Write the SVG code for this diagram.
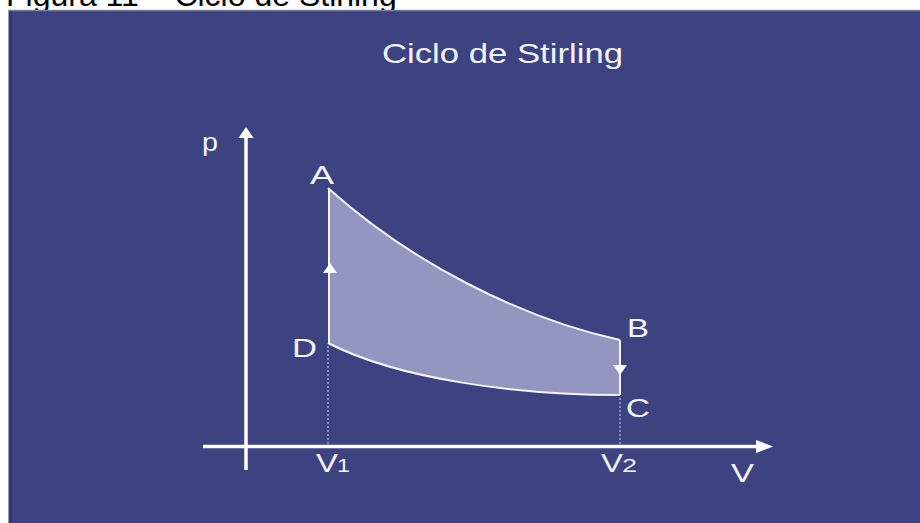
<svg xmlns="http://www.w3.org/2000/svg" width="920" height="523" viewBox="0 0 920 523">
<style>
.lbl{font-family:"Liberation Sans",Arial,sans-serif;font-size:25px;fill:#f2f2f8}
.sub{font-family:"Liberation Sans",Arial,sans-serif;font-size:18px;fill:#f2f2f8}
.axis{stroke:#ffffff;stroke-width:3.5;fill:none}
.edge{stroke:#f4f4fa;stroke-width:2;fill:none}
.dot{stroke:#8c90c4;stroke-width:2;stroke-dasharray:2 2;fill:none}
</style>
<rect width="920" height="523" fill="#ffffff"/>
<text x="6" y="6" font-family="'Liberation Sans',Arial,sans-serif" font-size="32" fill="#000">Figura 11 – Ciclo de Stirling</text>
<rect x="8" y="10" width="912" height="513" fill="#3d4281"/>
<line x1="8" y1="10.5" x2="920" y2="10.5" stroke="#7a7c9c" stroke-width="1.5"/>
<line x1="8.5" y1="10" x2="8.5" y2="523" stroke="#9a9cb6" stroke-width="1"/>
<rect x="9" y="11" width="3" height="512" fill="#34386f"/>
<g id="title"><text class="lbl" x="382" y="63" font-size="28" style="font-size:28px" textLength="241" lengthAdjust="spacingAndGlyphs">Ciclo de Stirling</text></g>
<g id="cycle">
<path d="M328,188 C410,262 520,318 620,340 L620,395 C520,395 400,380 328,343 Z" fill="#9396c0"/>
</g>
<g id="connectors">
<line class="dot" x1="328" y1="346" x2="328" y2="444"/>
<line class="dot" x1="620" y1="398" x2="620" y2="444"/>
<line class="axis" x1="246" y1="136" x2="246" y2="470"/>
<polygon points="246,127 238.5,138 253.5,138" fill="#fff"/>
<line class="axis" x1="203" y1="446.5" x2="758" y2="446.5"/>
<polygon points="773,446.5 756,440 756,453" fill="#fff"/>
<path class="edge" d="M328,188 C410,262 520,318 620,340"/>
<path class="edge" d="M328,343 C400,380 520,395 620,395"/>
<line class="edge" x1="329" y1="343" x2="329" y2="188" stroke-width="2.5"/>
<line class="edge" x1="620" y1="340" x2="620" y2="395" stroke-width="2.5"/>
<polygon points="330,263 323,273 337,273" fill="#fff"/>
<polygon points="620,375 613,365 627,365" fill="#fff"/>
</g>
<g id="labels">
<g id="p"><text class="lbl" x="202" y="151" textLength="16" lengthAdjust="spacingAndGlyphs">p</text></g>
<g id="A"><text class="lbl" x="310" y="184" textLength="24" lengthAdjust="spacingAndGlyphs">A</text></g>
<g id="D"><text class="lbl" x="292" y="357" textLength="25" lengthAdjust="spacingAndGlyphs">D</text></g>
<g id="B"><text class="lbl" x="627" y="337" textLength="22" lengthAdjust="spacingAndGlyphs">B</text></g>
<g id="C"><text class="lbl" x="626" y="417" textLength="24" lengthAdjust="spacingAndGlyphs">C</text></g>
<g id="V1"><text class="lbl" x="316" y="472" textLength="22" lengthAdjust="spacingAndGlyphs">V</text><text class="sub" x="337" y="472" textLength="13" lengthAdjust="spacingAndGlyphs">1</text></g>
<g id="V2"><text class="lbl" x="601" y="472" textLength="22" lengthAdjust="spacingAndGlyphs">V</text><text class="sub" x="622" y="472" textLength="15" lengthAdjust="spacingAndGlyphs">2</text></g>
<g id="V"><text class="lbl" x="731" y="482" textLength="23" lengthAdjust="spacingAndGlyphs">V</text></g>
</g>
</svg>
